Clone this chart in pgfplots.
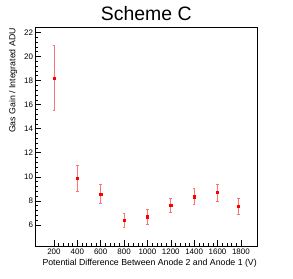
\documentclass[border=0pt]{standalone}
\usepackage{fontspec}
\setmainfont{Liberation Sans}
\usepackage{pgfplots}
\pgfplotsset{compat=1.18}
\begin{document}
\begin{tikzpicture}
\begin{axis}[
  scale only axis,
  width=221.5bp, height=219bp,
  xmin=42, xmax=1938,
  ymin=4.25, ymax=22.45,
  xtick={200,400,...,1800},
  ytick={6,8,...,22},
  minor x tick num=4,
  minor y tick num=4,
  tick align=inside,
  xtick pos=bottom, ytick pos=left,
  major tick length=6bp, minor tick length=3bp,
  tick style={black, line width=0.5pt},
  axis line style={black, line width=0.6pt},
  /pgf/number format/assume math mode=true,
  /pgf/number format/1000 sep={},
  tick label style={font=\fontsize{8}{9}\selectfont},
  xticklabel style={yshift=1bp},
  yticklabel style={xshift=1bp},
]
\addplot[
  only marks, mark=square*, mark size=1.1bp, color=red,
  error bars/.cd, y dir=both, y explicit,
  error bar style={color=red!55, line width=0.6pt},
  error mark options={rotate=90, mark size=1.3bp, color=red!55, line width=0.6pt},
] coordinates {
  (200,18.21) +- (0,2.68)
  (400,9.88) +- (0,1.08)
  (600,8.57) +- (0,0.79)
  (800,6.42) +- (0,0.58)
  (1000,6.69) +- (0,0.61)
  (1200,7.63) +- (0,0.62)
  (1400,8.35) +- (0,0.67)
  (1600,8.69) +- (0,0.70)
  (1780,7.55) +- (0,0.66)
};
\end{axis}
\node[anchor=base, font=\fontsize{19.5}{22}\selectfont] at (110.75bp, 225bp) {Scheme C};
\node[rotate=90, anchor=east, font=\fontsize{8.8}{10}\selectfont, inner sep=0pt] at (-22.5bp, 218bp) {Gas Gain / Integrated ADU};
\node[anchor=base east, font=\fontsize{8.8}{10}\selectfont, inner sep=0pt] at (221.5bp, -19bp) {Potential Difference Between Anode 2 and Anode 1 (V)};
\pgfresetboundingbox
\useasboundingbox (-35.5bp,-33bp) rectangle (257.5bp,246bp);
\end{tikzpicture}
\end{document}
